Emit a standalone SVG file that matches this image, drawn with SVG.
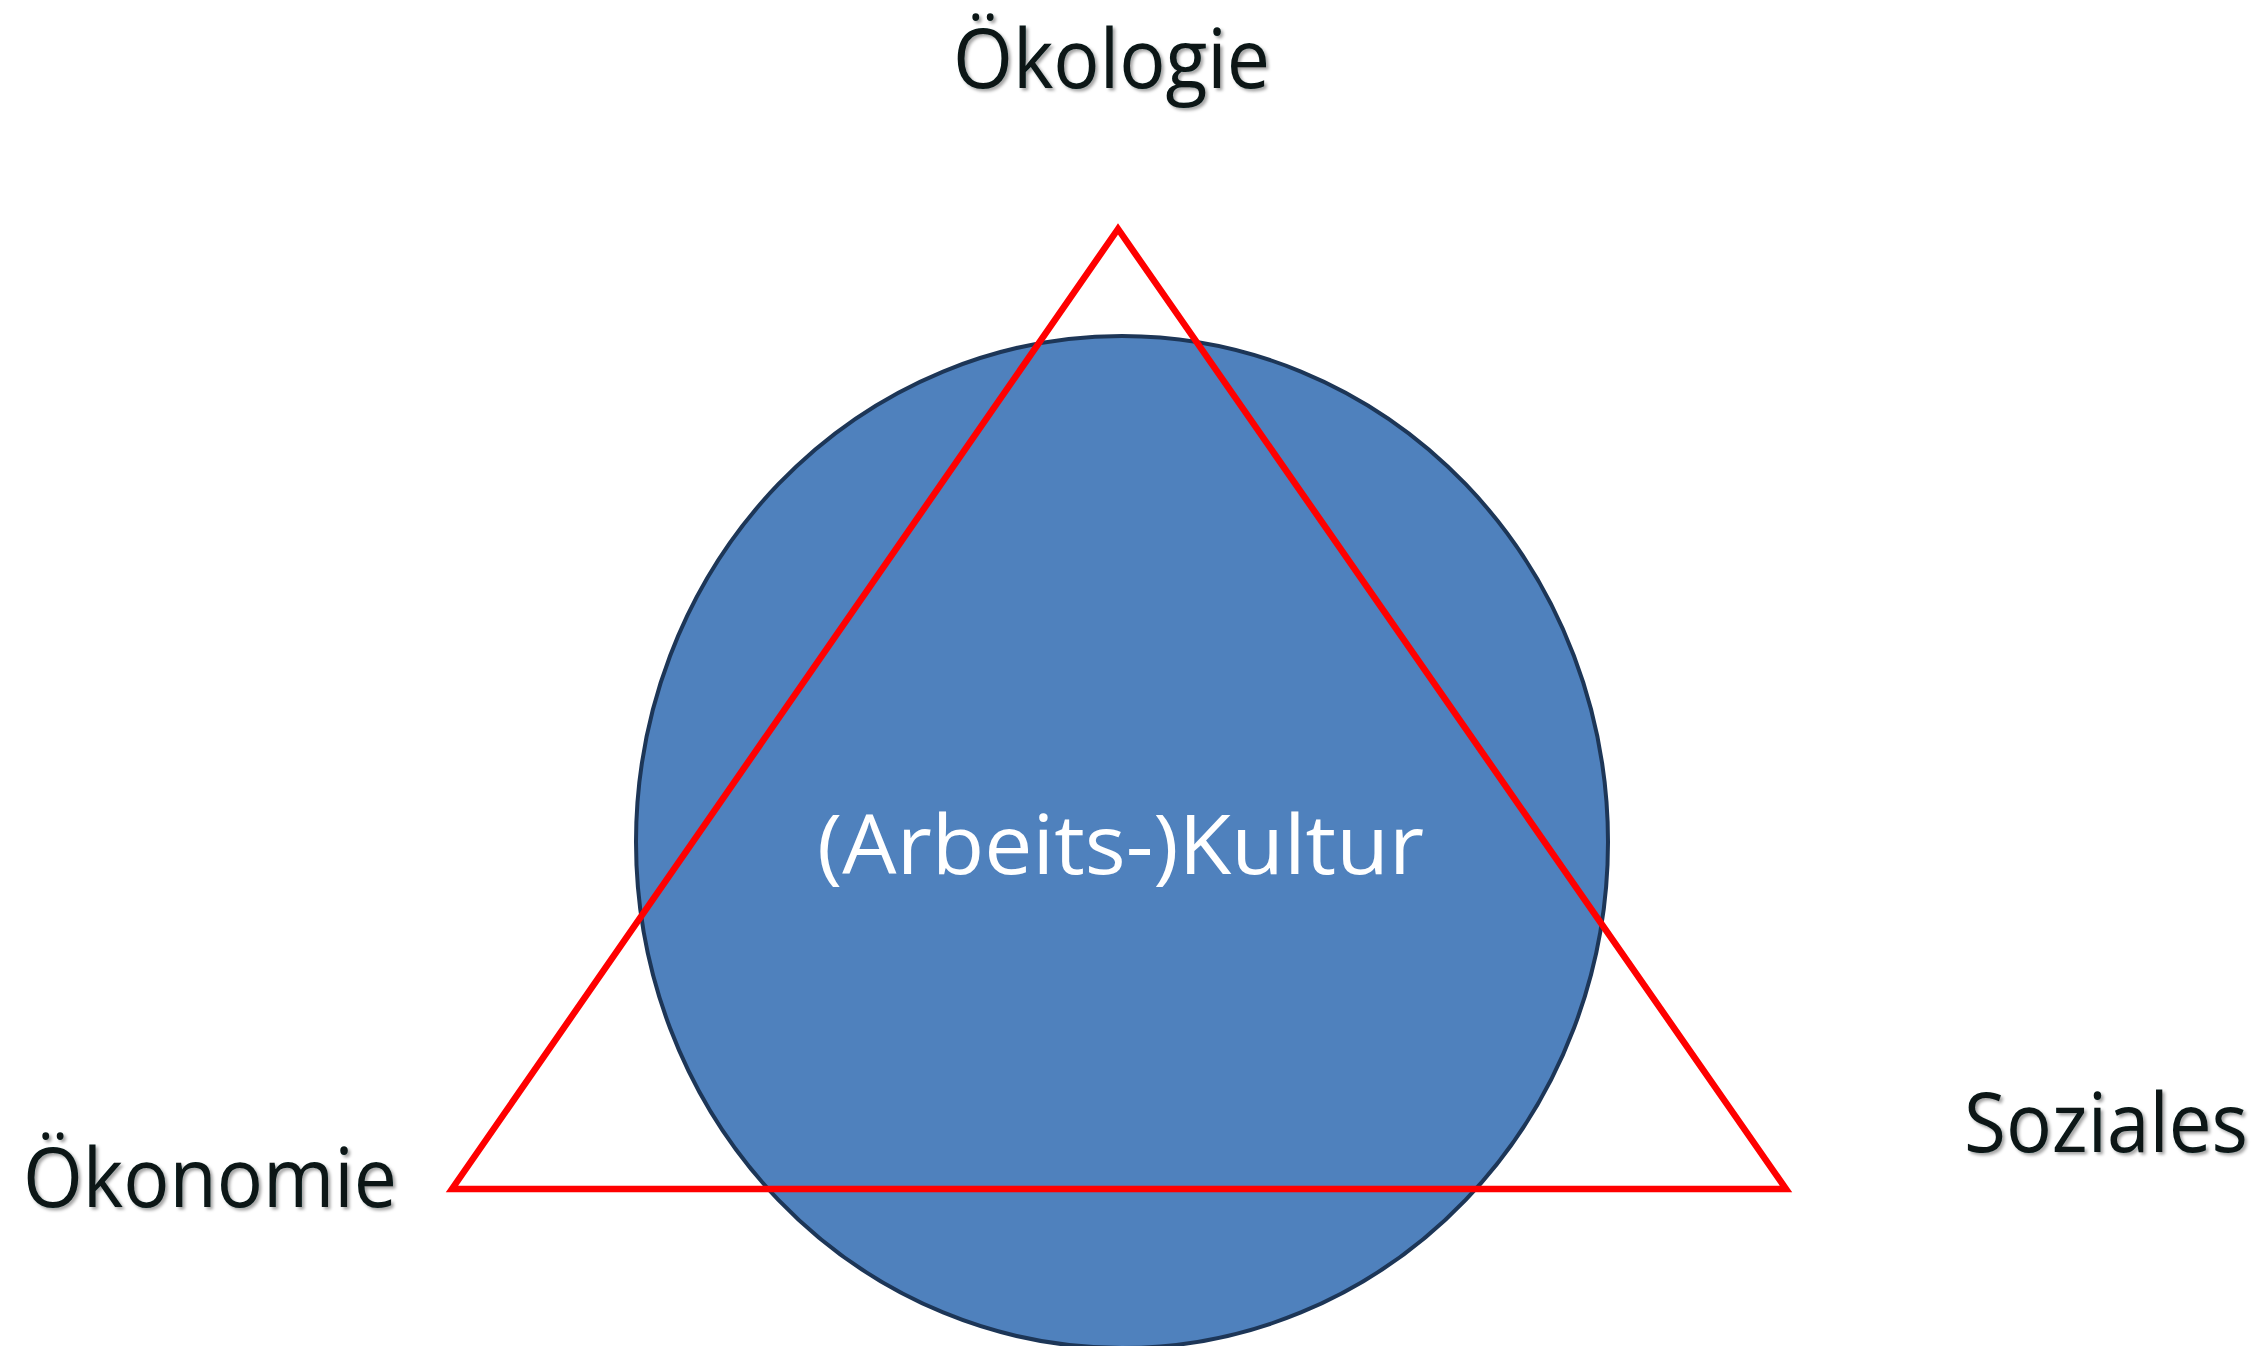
<svg xmlns="http://www.w3.org/2000/svg" width="2263" height="1346" viewBox="0 0 2263 1346">
<style>
.lbl{font-family:"Open Sans","Noto Sans","Liberation Sans",sans-serif;font-size:82px;fill:#071717;filter:url(#sh)}
.inner{font-family:"Open Sans","Noto Sans","Liberation Sans",sans-serif;font-size:82px;fill:#ffffff}
</style>
<defs>
<filter id="sh" x="-5%" y="-20%" width="110%" height="160%">
<feDropShadow dx="2.5" dy="2.5" stdDeviation="1.5" flood-color="#000" flood-opacity="0.35"/>
</filter>
</defs>
<rect width="2263" height="1346" fill="#ffffff"/>
<g id="circle">
<ellipse cx="1122" cy="842" rx="486" ry="506" fill="#4F81BD" stroke="#1D3657" stroke-width="4"/>
</g>
<g id="connectors">
<polygon points="1118,229 452,1189 1786,1189" fill="none" stroke="#FF0000" stroke-width="6.5" stroke-linejoin="miter"/>
</g>
<g id="center-label">
<text class="inner" x="817" y="874" textLength="607" lengthAdjust="spacingAndGlyphs">(Arbeits-)Kultur</text>
</g>
<g id="node-oekologie">
<text class="lbl" x="953" y="88" textLength="317" lengthAdjust="spacingAndGlyphs">Ökologie</text>
</g>
<g id="node-oekonomie">
<text class="lbl" x="23" y="1207" textLength="374" lengthAdjust="spacingAndGlyphs">Ökonomie</text>
</g>
<g id="node-soziales">
<text class="lbl" x="1964" y="1152" textLength="284" lengthAdjust="spacingAndGlyphs">Soziales</text>
</g>
</svg>
